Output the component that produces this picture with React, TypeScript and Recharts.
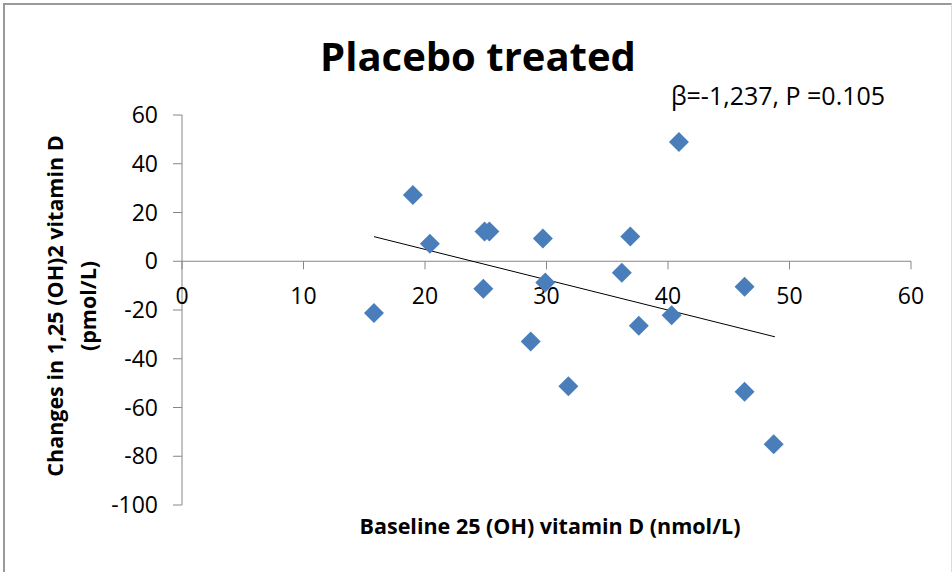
import {
  ReferenceDot,
  ReferenceLine,
  Scatter,
  ScatterChart,
  XAxis,
  YAxis,
} from "recharts";

// baseline 25(OH)D (nmol/L) vs change in 1,25(OH)2D (pmol/L)
const baseline = [15.8, 19.0, 20.4, 24.8, 24.9, 25.3, 28.7, 29.7, 29.9, 31.8, 36.2, 36.9, 37.6, 40.3, 40.9, 46.3, 46.3, 48.7];
const change = [-21.2, 27.2, 7.2, -11.3, 12.2, 12.2, -32.9, 9.3, -8.7, -51.3, -4.7, 10.2, -26.5, -22.2, 48.9, -10.5, -53.5, -75.1];

// fitted regression line end points
const trendX = [15.8, 48.8];
const trendY = [10.1, -31.0];

const xTicks = [0, 10, 20, 30, 40, 50, 60];
const yTicks = [-100, -80, -60, -40, -20, 0, 20, 40, 60];

const FONT = "'Open Sans', 'Noto Sans', sans-serif";
const AXIS = "#868686";
const BLUE = "#4a7ebb";

const points = baseline.map((x, i) => ({ x, y: change[i] }));
const trend = trendX.map((x, i) => ({ x, y: trendY[i] }));

const Diamond = (p: any) => {
  const { cx, cy } = p;
  const r = 10;
  return (
    <polygon
      points={`${cx},${cy - r} ${cx + r},${cy} ${cx},${cy + r} ${cx - r},${cy}`}
      fill={BLUE}
    />
  );
};

// x axis crosses at y = 0, so ticks + labels are drawn at the zero line
const XTick = (label: number) => (p: any) => (
  <g>
    <line x1={p.cx} y1={p.cy} x2={p.cx} y2={p.cy + 8} stroke={AXIS} strokeWidth={1} />
    <text
      x={p.cx}
      y={p.cy + 43}
      textAnchor="middle"
      fontSize={23}
      fontFamily={FONT}
      fill="#000"
    >
      {label}
    </text>
  </g>
);

export default function App() {
  return (
    <div
      style={{
        position: "absolute",
        left: 0,
        top: 0,
        width: 952,
        height: 572,
        background: "#fff",
        overflow: "hidden",
      }}
    >
      <div
        style={{
          position: "absolute",
          left: 3,
          top: 3,
          width: 946,
          height: 580,
          borderTop: "2px solid #9a9a9a",
          borderLeft: "2px solid #9a9a9a",
          borderRight: "1px solid #dcdcdc",
        }}
      />
      <ScatterChart
        width={952}
        height={572}
        margin={{ top: 115, right: 41, bottom: 67, left: 102 }}
        style={{ position: "absolute", left: 0, top: 0 }}
      >
        <XAxis type="number" dataKey="x" domain={[0, 60]} ticks={xTicks} hide />
        <YAxis
          type="number"
          dataKey="y"
          domain={[-100, 60]}
          ticks={yTicks}
          width={80}
          interval={0}
          axisLine={{ stroke: AXIS }}
          tickLine={{ stroke: AXIS }}
          tickSize={9}
          tickMargin={15}
          tick={{ fill: "#000", fontSize: 23, fontFamily: FONT }}
        />
        <ReferenceLine y={0} stroke={AXIS} strokeWidth={1} />
        {xTicks.map((t) => (
          <ReferenceDot key={t} x={t} y={0} r={0} shape={XTick(t)} />
        ))}
        <Scatter
          data={trend}
          line={{ stroke: "#000", strokeWidth: 1 }}
          shape={() => null}
          isAnimationActive={false}
        />
        <Scatter data={points} shape={Diamond} isAnimationActive={false} />
      </ScatterChart>
      <div
        style={{
          position: "absolute",
          left: 478,
          top: 55,
          transform: "translate(-50%, -50%)",
          fontFamily: FONT,
          fontWeight: 700,
          fontSize: 40,
          whiteSpace: "nowrap",
          color: "#000",
        }}
      >
        Placebo treated
      </div>
      <div
        style={{
          position: "absolute",
          left: 778,
          top: 95,
          transform: "translate(-50%, -50%)",
          fontFamily: FONT,
          fontSize: 25,
          whiteSpace: "nowrap",
          color: "#000",
        }}
      >
        β=-1,237, P =0.105
      </div>
      <div
        style={{
          position: "absolute",
          left: 550,
          top: 525,
          transform: "translate(-50%, -50%)",
          fontFamily: FONT,
          fontWeight: 700,
          fontSize: 21.5,
          whiteSpace: "nowrap",
          color: "#000",
        }}
      >
        Baseline 25 (OH) vitamin D (nmol/L)
      </div>
      <div
        style={{
          position: "absolute",
          left: 71,
          top: 306,
          transform: "translate(-50%, -50%) rotate(-90deg)",
          fontFamily: FONT,
          fontWeight: 700,
          fontSize: 21.5,
          lineHeight: "33px",
          textAlign: "center",
          whiteSpace: "nowrap",
          color: "#000",
        }}
      >
        Changes in 1,25 (OH)2 vitamin D
        <br />
        (pmol/L)
      </div>
    </div>
  );
}
